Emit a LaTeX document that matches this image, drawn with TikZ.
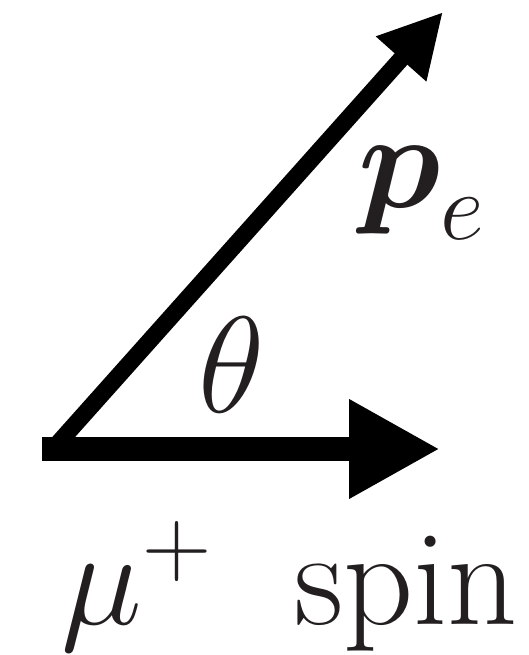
\RequirePackage{fix-cm}
\documentclass[tikz,border=0pt]{standalone}
\usepackage{amsmath}
\usepackage{tikz}
\usetikzlibrary{arrows.meta, positioning}
\definecolor{mydark}{RGB}{35,31,32}
\tikzset{
  spinarrow/.style={-{Triangle[length=1.82cm, width=1.86cm]}, line width=0.48cm, color=black},
  momarrow/.style={-{Triangle[length=1.26cm, width=1.26cm]}, line width=0.34cm, color=black},
  lbl/.style={inner sep=0pt, anchor=base west, color=mydark,
    font=\fontsize{78}{94}\selectfont}
}

\begin{document}
\begin{tikzpicture}
  \useasboundingbox (0,0) rectangle (10.56,13.1);

  % Points
  \coordinate (start) at (0.84,4.12);
  \coordinate (o) at (1.06,4.12);
  \coordinate (spintip) at (8.8,4.12);
  \coordinate (ptip) at (8.86,12.86);

  % Arrows
  \draw[momarrow] (o) -- (ptip);
  \draw[spinarrow] (start) -- (spintip);

  % Labels
  \node[lbl] (pe) at (7.16,8.94) {$\boldsymbol{p}_e$};
  \node[lbl] (theta) at (3.96,4.84) {$\theta$};
  \node[lbl] (spin) at (1.22,0.6) {$\mu^+$\hspace{0.6em}spin};
\end{tikzpicture}
\end{document}
